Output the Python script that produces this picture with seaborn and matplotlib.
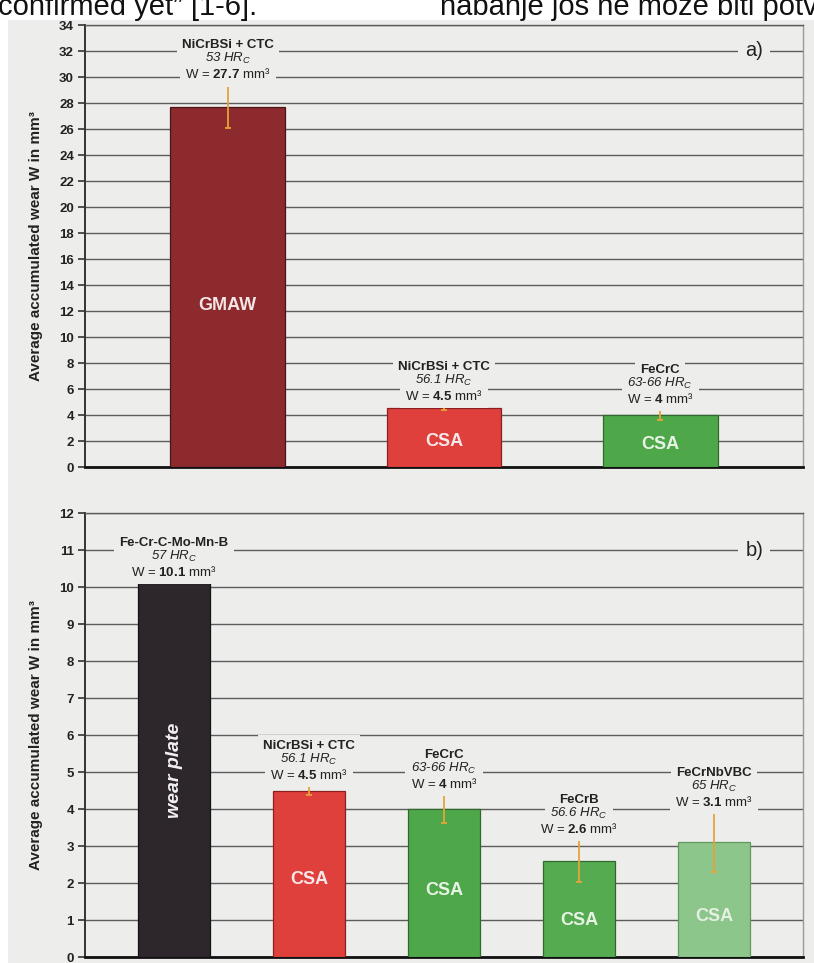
import numpy as np
import pandas as pd
import matplotlib
matplotlib.use("Agg")
import matplotlib.pyplot as plt
from matplotlib.patches import Rectangle
import seaborn as sns

# ---- panel a) : NiCrBSi + CTC deposited by GMAW vs. CSA overlays ----
keys_a = ["NiCrBSi + CTC (GMAW)", "NiCrBSi + CTC (CSA)", "FeCrC (CSA)"]
alloys_a = ["NiCrBSi + CTC", "NiCrBSi + CTC", "FeCrC"]
hardness_a = ["53", "56.1", "63-66"]
wear_a = [27.7, 4.5, 4.0]
err_a = [1.65, 0.12, 0.4]
process_a = ["GMAW", "CSA", "CSA"]

# ---- panel b) : wear plate vs. CSA overlays ----
keys_b = ["Fe-Cr-C-Mo-Mn-B (wear plate)", "NiCrBSi + CTC (CSA)", "FeCrC (CSA)",
          "FeCrB (CSA)", "FeCrNbVBC (CSA)"]
alloys_b = ["Fe-Cr-C-Mo-Mn-B", "NiCrBSi + CTC", "FeCrC", "FeCrB", "FeCrNbVBC"]
hardness_b = ["57", "56.1", "63-66", "56.6", "65"]
wear_b = [10.1, 4.5, 4.0, 2.6, 3.1]
err_b = [0.0, 0.12, 0.38, 0.57, 0.8]
process_b = ["wear plate", "CSA", "CSA", "CSA", "CSA"]

y_label = "Average accumulated wear W in mm³"

sns.set_theme(style="white")
plt.rcParams["font.family"] = ["Liberation Sans", "DejaVu Sans"]
plt.rcParams["mathtext.fontset"] = "custom"
plt.rcParams["mathtext.rm"] = "Liberation Sans"
plt.rcParams["mathtext.it"] = "Liberation Sans:italic"
plt.rcParams["mathtext.bf"] = "Liberation Sans:bold"
plt.rcParams["mathtext.default"] = "it"

BG = "#EDEDEB"
GRID = "#5c5c5c"
ERR = "#E8A23A"
INK = "#222222"

W, H = 814, 963
fig = plt.figure(figsize=(W / 100, H / 100), dpi=100, facecolor=BG)

# white page margin with the running body text above the figure
fig.patches.append(Rectangle((0, 0), 8 / W, 1, transform=fig.transFigure,
                             fc="white", ec="none", zorder=0))
fig.patches.append(Rectangle((0, 1 - 20 / H), 1, 20 / H, transform=fig.transFigure,
                             fc="white", ec="none", zorder=0))
fig.text(-2 / W, 1 - 15 / H, "confirmed yet\u201d [1-6].", fontsize=21,
         va="baseline", ha="left", color="#111111")
fig.text(440 / W, 1 - 15 / H, "habanje još ne može biti potvrđeno", fontsize=21,
         va="baseline", ha="left", color="#111111")


def px_axes(left, top, right, bottom):
    return fig.add_axes([left / W, 1 - bottom / H, (right - left) / W, (bottom - top) / H])


def draw_panel(ax, keys, alloys, hardness, wear, err, process, colors, edges,
               ymax, ystep, tag, tag_y, inner_y, inner_colors):
    n = len(keys)
    df = pd.DataFrame({"key": keys, "wear": wear})
    sns.barplot(data=df, x="key", y="wear", hue="key", palette=colors,
                saturation=1, width=0.53, errorbar=None, legend=False, ax=ax, zorder=3)
    for patch, ec in zip(ax.patches, edges):
        patch.set_edgecolor(ec)
        patch.set_linewidth(0.9)

    # error bars
    xs = np.arange(n)
    w = np.asarray(wear)
    e = np.asarray(err)
    m = e > 0
    ax.errorbar(xs[m], w[m], yerr=e[m], fmt="none", ecolor=ERR, elinewidth=1.3,
                capsize=2, capthick=1.3, zorder=4)

    ax.set_facecolor(BG)
    ax.set_xlim(-0.66, n - 1 + 0.66)
    ax.set_ylim(0, ymax)
    ax.set_yticks(np.arange(0, ymax + 0.1, ystep))
    ax.yaxis.grid(True, color=GRID, lw=1.0, zorder=0)
    ax.set_axisbelow(True)
    ax.set_xticks([])
    ax.set_xlabel("")
    ax.set_ylabel(y_label, fontsize=11, fontweight="bold", color=INK)
    ax.yaxis.set_label_coords(-0.058, 0.5)
    ax.tick_params(axis="y", which="major", left=True, length=5, width=1.2,
                   color="#333333", pad=3, labelsize=9.5, labelcolor=INK)
    for lab in ax.get_yticklabels():
        lab.set_fontweight("bold")

    ax.spines["left"].set_color("#333333")
    ax.spines["left"].set_linewidth(1.4)
    ax.spines["bottom"].set_color("#111111")
    ax.spines["bottom"].set_linewidth(2.0)
    ax.spines["top"].set_color(GRID)
    ax.spines["top"].set_linewidth(1.0)
    ax.spines["right"].set_color("#9a9a9a")
    ax.spines["right"].set_linewidth(1.0)

    fs = 9.5
    for i in range(n):
        top = wear[i] + err[i]
        lines = [
            (alloys[i], dict(fontweight="bold"), 21.6),
            (f"{hardness[i]} HR$_C$", dict(fontstyle="italic"), 10.8),
            (f"W = $\\mathbf{{{wear[i]:g}}}$ mm³", dict(), 0.0),
        ]
        # background boxes first so that no box hides a neighbouring line
        for txt, kw, off in lines:
            ax.annotate(txt, xy=(i, top), xytext=(0, 3 + off), textcoords="offset points",
                        ha="center", va="bottom", fontsize=fs, color=(0, 0, 0, 0),
                        bbox=dict(boxstyle="square,pad=0.4", fc=BG, ec="none"),
                        zorder=5, **kw)
        for txt, kw, off in lines:
            ax.annotate(txt, xy=(i, top), xytext=(0, 3 + off), textcoords="offset points",
                        ha="center", va="bottom", fontsize=fs, color=INK,
                        zorder=6, **kw)
        if process[i] == "wear plate":
            ax.text(i, inner_y[i], process[i], rotation=90, ha="center", va="center",
                    fontsize=14, fontweight="bold", fontstyle="italic",
                    color=inner_colors[i], zorder=6)
        else:
            ax.text(i, inner_y[i], process[i], ha="center", va="center",
                    fontsize=13, fontweight="bold", color=inner_colors[i], zorder=6)

    ax.text(0.932, tag_y / ymax, tag, transform=ax.transAxes, ha="center", va="center",
            fontsize=14.5, color=INK,
            bbox=dict(boxstyle="square,pad=0.35", fc=BG, ec="none"), zorder=5)


ax_a = px_axes(85, 25, 803, 467)
draw_panel(ax_a, keys_a, alloys_a, hardness_a, wear_a, err_a, process_a,
           colors=["#8C2A2E", "#E0403C", "#4EA84A"],
           edges=["#4a1518", "#8a2020", "#2f6a2c"],
           ymax=34, ystep=2, tag="a)", tag_y=32,
           inner_y=[12.4, 2.0, 1.7],
           inner_colors=["#F4E6E6", "#F6E9E9", "#E8F3E6"])

ax_b = px_axes(85, 513, 803, 957)
draw_panel(ax_b, keys_b, alloys_b, hardness_b, wear_b, err_b, process_b,
           colors=["#2D272C", "#E0403C", "#4EA84A", "#55AC50", "#8DC68A"],
           edges=["#151215", "#8a2020", "#2f6a2c", "#2f6a2c", "#5f9a5c"],
           ymax=12, ystep=1, tag="b)", tag_y=11,
           inner_y=[5.05, 2.1, 1.8, 1.0, 1.1],
           inner_colors=["#F2F0F2", "#F6E9E9", "#E8F3E6", "#E8F3E6", "#E4F0E2"])

fig.savefig("out.png", dpi=100, facecolor=BG)
